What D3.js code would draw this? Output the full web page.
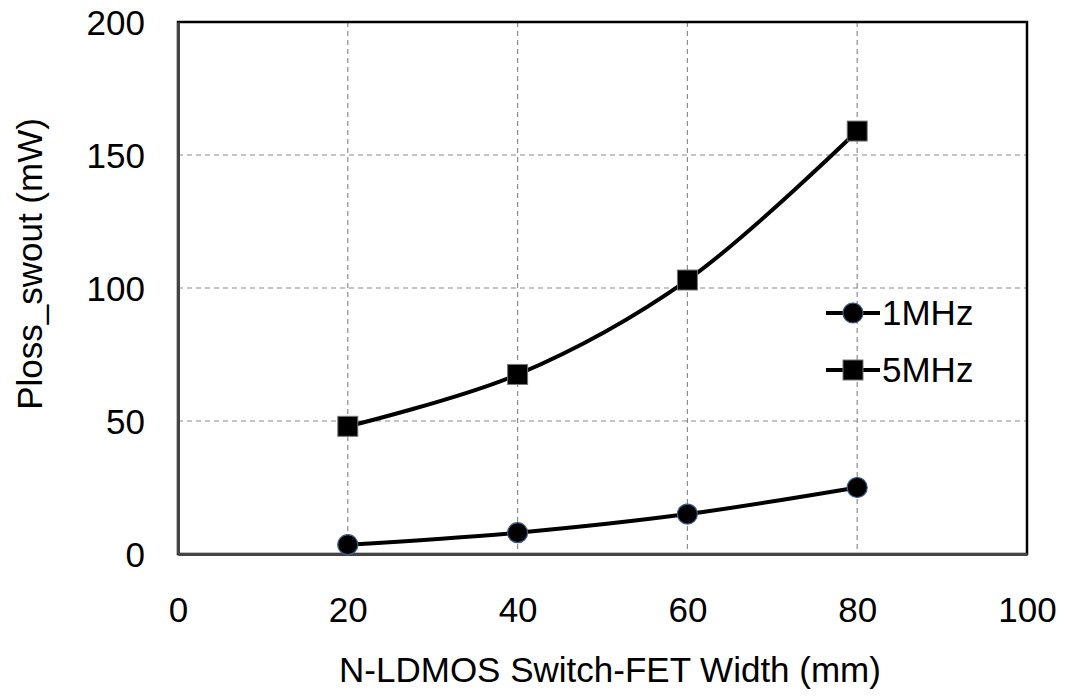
<!DOCTYPE html>
<html>
<head>
<meta charset="utf-8">
<script src="https://cdn.jsdelivr.net/npm/d3@7"></script>
<style>
  body { margin: 0; background: #fff; }
  text { font-family: "Liberation Sans", Arial, sans-serif; fill: #000; }
</style>
</head>
<body>
<div class="graph"></div>
<script>
const widths = [20, 40, 60, 80];
const loss1MHz = [3.5, 8, 15, 25];
const loss5MHz = [48, 67.5, 103, 159];
const xTicks = [0, 20, 40, 60, 80, 100];
const yTicks = [0, 50, 100, 150, 200];
const seriesNames = ['1MHz', '5MHz'];

const margin = {top: 22, right: 38, bottom: 144, left: 178},
    width = 1065 - margin.left - margin.right,
    height = 698 - margin.top - margin.bottom;

const fontSize = 35;

const svg = d3.select('.graph').append('svg')
    .attr('width', 1065)
    .attr('height', 698);

const g = svg.append('g')
    .attr('transform', 'translate(' + margin.left + ',' + margin.top + ')');

const scaleX = d3.scaleLinear().domain([0, 100]).range([0, width]);
const scaleY = d3.scaleLinear().domain([0, 200]).range([height, 0]);

// grid
g.append('g').selectAll('line')
  .data(xTicks.slice(1, -1))
  .join('line')
    .attr('x1', d => scaleX(d)).attr('x2', d => scaleX(d))
    .attr('y1', 0).attr('y2', height)
    .attr('stroke', '#8c8c8c').attr('stroke-width', 1.2)
    .attr('stroke-dasharray', '5,4');

g.append('g').selectAll('line')
  .data(yTicks.slice(1, -1))
  .join('line')
    .attr('x1', 0).attr('x2', width)
    .attr('y1', d => scaleY(d)).attr('y2', d => scaleY(d))
    .attr('stroke', '#8c8c8c').attr('stroke-width', 1.2)
    .attr('stroke-dasharray', '5,4');

// frame
g.append('rect')
  .attr('x', 0).attr('y', 0)
  .attr('width', width).attr('height', height)
  .attr('fill', 'none')
  .attr('stroke', '#000').attr('stroke-width', 2.5);

const xAxis = d3.axisBottom(scaleX).tickValues(xTicks).tickSize(0).tickPadding(43);
const yAxis = d3.axisLeft(scaleY).tickValues(yTicks).tickSize(0).tickPadding(33);

g.append('g')
  .attr('transform', 'translate(0,' + height + ')')
  .call(xAxis)
  .call(a => a.select('.domain').attr('stroke', '#444').attr('stroke-width', 3))
  .selectAll('text').attr('font-size', fontSize).attr('font-family', '"Liberation Sans", Arial, sans-serif');

g.append('g')
  .call(yAxis)
  .call(a => a.select('.domain').attr('stroke', '#444').attr('stroke-width', 3))
  .selectAll('text').attr('font-size', fontSize).attr('font-family', '"Liberation Sans", Arial, sans-serif')
  .attr('dy', '0.35em');

// axis titles
svg.append('text')
  .attr('x', 610)
  .attr('y', 682)
  .attr('text-anchor', 'middle')
  .attr('font-size', fontSize)
  .text('N-LDMOS Switch-FET Width (mm)');

svg.append('text')
  .attr('transform', 'translate(42,264) rotate(-90)')
  .attr('text-anchor', 'middle')
  .attr('font-size', fontSize)
  .text('Ploss_swout (mW)');

const line = d3.line()
  .x(d => scaleX(d[0]))
  .y(d => scaleY(d[1]))
  .curve(d3.curveCatmullRom.alpha(0.5));

const data1 = widths.map((w, i) => [w, loss1MHz[i]]);
const data5 = widths.map((w, i) => [w, loss5MHz[i]]);

g.append('path').datum(data1).attr('d', line)
  .attr('fill', 'none').attr('stroke', '#000').attr('stroke-width', 4);
g.append('path').datum(data5).attr('d', line)
  .attr('fill', 'none').attr('stroke', '#000').attr('stroke-width', 4);

g.selectAll('.dot1').data(data1).join('circle')
  .attr('class', 'dot1')
  .attr('cx', d => scaleX(d[0])).attr('cy', d => scaleY(d[1]))
  .attr('r', 10)
  .attr('fill', '#000').attr('stroke', '#3a5d8c').attr('stroke-width', 1.2);

g.selectAll('.sq5').data(data5).join('rect')
  .attr('class', 'sq5')
  .attr('x', d => scaleX(d[0]) - 10).attr('y', d => scaleY(d[1]) - 10)
  .attr('width', 20).attr('height', 20)
  .attr('fill', '#000').attr('stroke', '#777').attr('stroke-width', 1);

// legend
const legend = svg.append('g').attr('transform', 'translate(826,313)');
seriesNames.forEach((name, i) => {
  const row = legend.append('g').attr('transform', 'translate(0,' + (i * 57) + ')');
  row.append('line').attr('x1', 0).attr('x2', 54).attr('y1', 0).attr('y2', 0)
    .attr('stroke', '#000').attr('stroke-width', 4);
  if (i === 0) {
    row.append('circle').attr('cx', 27).attr('cy', 0).attr('r', 10)
      .attr('fill', '#000').attr('stroke', '#3a5d8c').attr('stroke-width', 1.2);
  } else {
    row.append('rect').attr('x', 17).attr('y', -10).attr('width', 20).attr('height', 20)
      .attr('fill', '#000').attr('stroke', '#777').attr('stroke-width', 1);
  }
  row.append('text').attr('x', 56).attr('y', 0).attr('dy', '0.35em')
    .attr('font-size', fontSize).text(name);
});
</script>
</body>
</html>
